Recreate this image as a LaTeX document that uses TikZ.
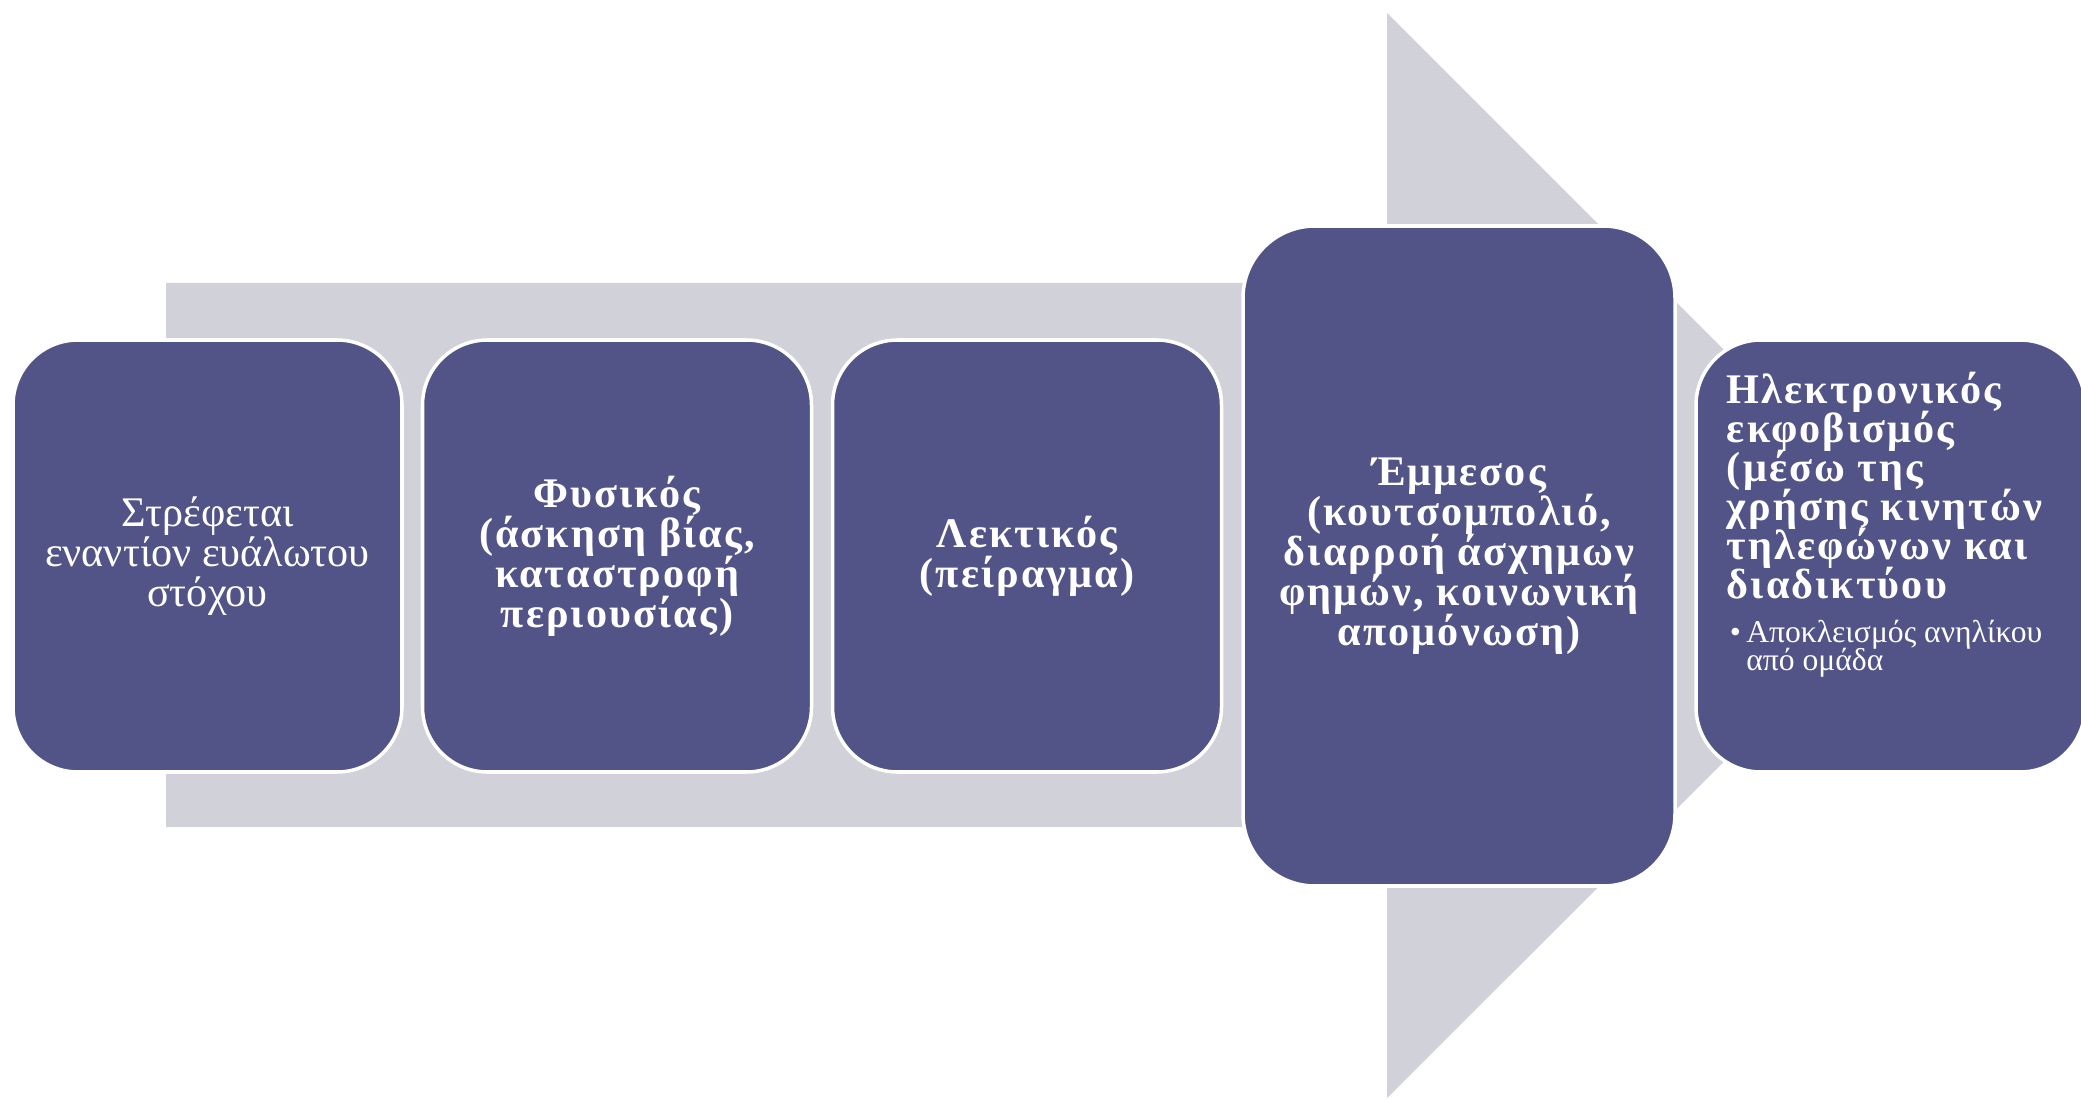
\documentclass[tikz,border=0pt]{standalone}
\usepackage{fontspec}
\setmainfont{Liberation Serif}
\newfontfamily\wideserif[LetterSpace=5]{Liberation Serif}
\definecolor{stagefill}{RGB}{82,83,135}
\definecolor{bandgray}{RGB}{208,209,217}
\newcommand{\tightlines}{\lineskiplimit=-20pt\lineskip=0pt}

\begin{document}
\begin{tikzpicture}[
    stage/.style={draw=white, line width=1pt, fill=stagefill, text=white,
        rounded corners=0.65cm, minimum width=3.89cm, minimum height=4.32cm,
        inner sep=0pt, align=center, font=\fontsize{12}{11.4}\selectfont\tightlines},
    boldstage/.style={stage, font=\wideserif\bfseries\fontsize{12}{11.4}\selectfont\tightlines}
]
    \useasboundingbox (0,0) rectangle (20.81,10.99);

    % grey band with the arrow head
    \fill[bandgray] (1.66,8.16) -- (13.87,8.16) -- (13.87,10.86) -- (19.30,5.43)
        -- (13.87,0.01) -- (13.87,2.72) -- (1.66,2.72) -- cycle;

    \node[stage]     at (2.075,5.43)  (target)   {Στρέφεται\\ εναντίον ευάλωτου\\ στόχου};
    \node[boldstage] at (6.17,5.43)   (physical) {Φυσικός\\ (άσκηση βίας,\\ καταστροφή\\ περιουσίας)};
    \node[boldstage] at (10.27,5.43)  (verbal)   {Λεκτικός\\ (πείραγμα)};
    \node[boldstage, minimum width=4.32cm, minimum height=6.6cm, rounded corners=0.72cm]
                     at (14.59,5.43)  (indirect) {Έμμεσος\\ (κουτσομπολιό,\\ διαρροή άσχημων\\ φημών, κοινωνική\\ απομόνωση)};
    \node[stage]     at (18.905,5.43) (cyber)    {};

    \node[anchor=north west, inner sep=0pt, text=white, align=left,
          font=\wideserif\bfseries\fontsize{12}{11.1}\selectfont\tightlines]
        at ([xshift=0.32cm,yshift=-0.33cm]cyber.north west) (cybertitle)
        {Ηλεκτρονικός\\ εκφοβισμός\\ (μέσω της\\ χρήσης κινητών\\ τηλεφώνων και\\ διαδικτύου};
    \node[anchor=north west, inner sep=0pt, text=white, align=left,
          font=\fontsize{9}{8}\selectfont\tightlines]
        at ([xshift=0.03cm,yshift=-0.2cm]cybertitle.south west) (cyberlist)
        {•\,Αποκλεισμός ανηλίκου\\ \phantom{•\,}από ομάδα};
\end{tikzpicture}
\end{document}
